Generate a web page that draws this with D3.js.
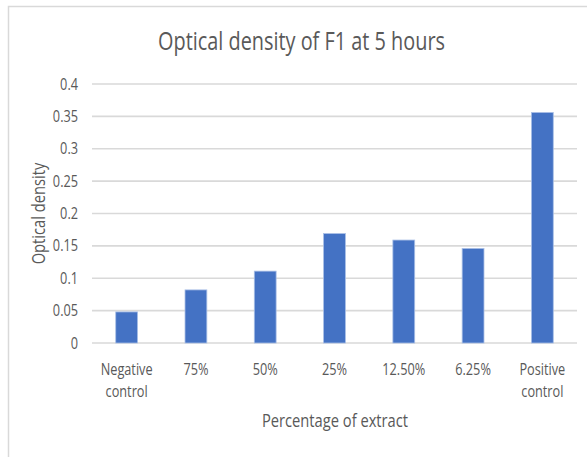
<!DOCTYPE html>
<html>
<head>
<meta charset="utf-8">
<script src="https://cdn.jsdelivr.net/npm/d3@7"></script>
<style>
  html, body { margin: 0; padding: 0; background: #ffffff; }
  svg { display: block; }
  text { font-family: "Open Sans", "Liberation Sans", sans-serif; fill: #595959; }
</style>
</head>
<body>
<svg id="chart" width="587" height="457"></svg>
<script>
// Optical density readings per treatment
const categories = [["Negative", "control"], ["75%"], ["50%"], ["25%"], ["12.50%"], ["6.25%"], ["Positive", "control"]];
const densities = [0.048, 0.082, 0.111, 0.169, 0.159, 0.146, 0.356];
const yTicks = [0, 0.05, 0.1, 0.15, 0.2, 0.25, 0.3, 0.35, 0.4];
const tickLabels = ["0", "0.05", "0.1", "0.15", "0.2", "0.25", "0.3", "0.35", "0.4"];

const titleText = "Optical density of F1 at 5 hours";
const xTitle = "Percentage of extract";
const yTitle = "Optical density";

const svg = d3.select("#chart");
const plot = { left: 92, right: 577, top: 84, bottom: 343 };

// chart frame
svg.append("rect")
  .attr("x", 8.5).attr("y", 6.5)
  .attr("width", 620).attr("height", 480)
  .attr("fill", "#ffffff")
  .attr("stroke", "#d9d9d9").attr("stroke-width", 1.5);

const x = d3.scaleBand()
  .domain(d3.range(categories.length))
  .range([plot.left, plot.right])
  .paddingInner(0.685)
  .paddingOuter(0.3425);

const y = d3.scaleLinear()
  .domain([0, 0.4])
  .range([plot.bottom, plot.top]);

// horizontal gridlines
svg.append("g")
  .selectAll("line")
  .data(yTicks)
  .join("line")
  .attr("x1", plot.left).attr("x2", plot.right)
  .attr("y1", d => y(d)).attr("y2", d => y(d))
  .attr("stroke", "#d9d9d9").attr("stroke-width", 1.6);

// bars
svg.append("g")
  .selectAll("rect")
  .data(densities)
  .join("rect")
  .attr("x", (d, i) => x(i))
  .attr("width", x.bandwidth())
  .attr("y", d => y(d))
  .attr("height", d => y(0) - y(d))
  .attr("fill", "#4472c4")
  .attr("stroke", "#a9bfe6").attr("stroke-width", 0.8);

// title, measured first so the other labels share its horizontal squeeze
const titleG = svg.append("g").attr("transform", `translate(${301.5},50)`);
const titleEl = titleG.append("text")
  .attr("text-anchor", "middle")
  .attr("font-size", 25)
  .text(titleText);
const sx = 287 / titleEl.node().getComputedTextLength();
titleG.attr("transform", `translate(${301.5},50) scale(${sx},1)`);

function label(tx, ty, str, size, anchor, rot) {
  const g = svg.append("g")
    .attr("transform", `translate(${tx},${ty})${rot ? ` rotate(${rot})` : ""} scale(${sx},1)`);
  g.append("text")
    .attr("text-anchor", anchor)
    .attr("font-size", size)
    .text(str);
  return g;
}

// y tick labels
yTicks.forEach((t, i) => {
  label(78, y(t) + 5.5, tickLabels[i], 16, "end");
});

// category labels
categories.forEach((lines, i) => {
  const cx = x(i) + x.bandwidth() / 2;
  lines.forEach((ln, j) => label(cx, 375 + j * 22, ln, 16, "middle"));
});

// axis titles
label(335, 427, xTitle, 18.5, "middle");
label(45, 213.5, yTitle, 18.5, "middle", -90);
</script>
</body>
</html>
